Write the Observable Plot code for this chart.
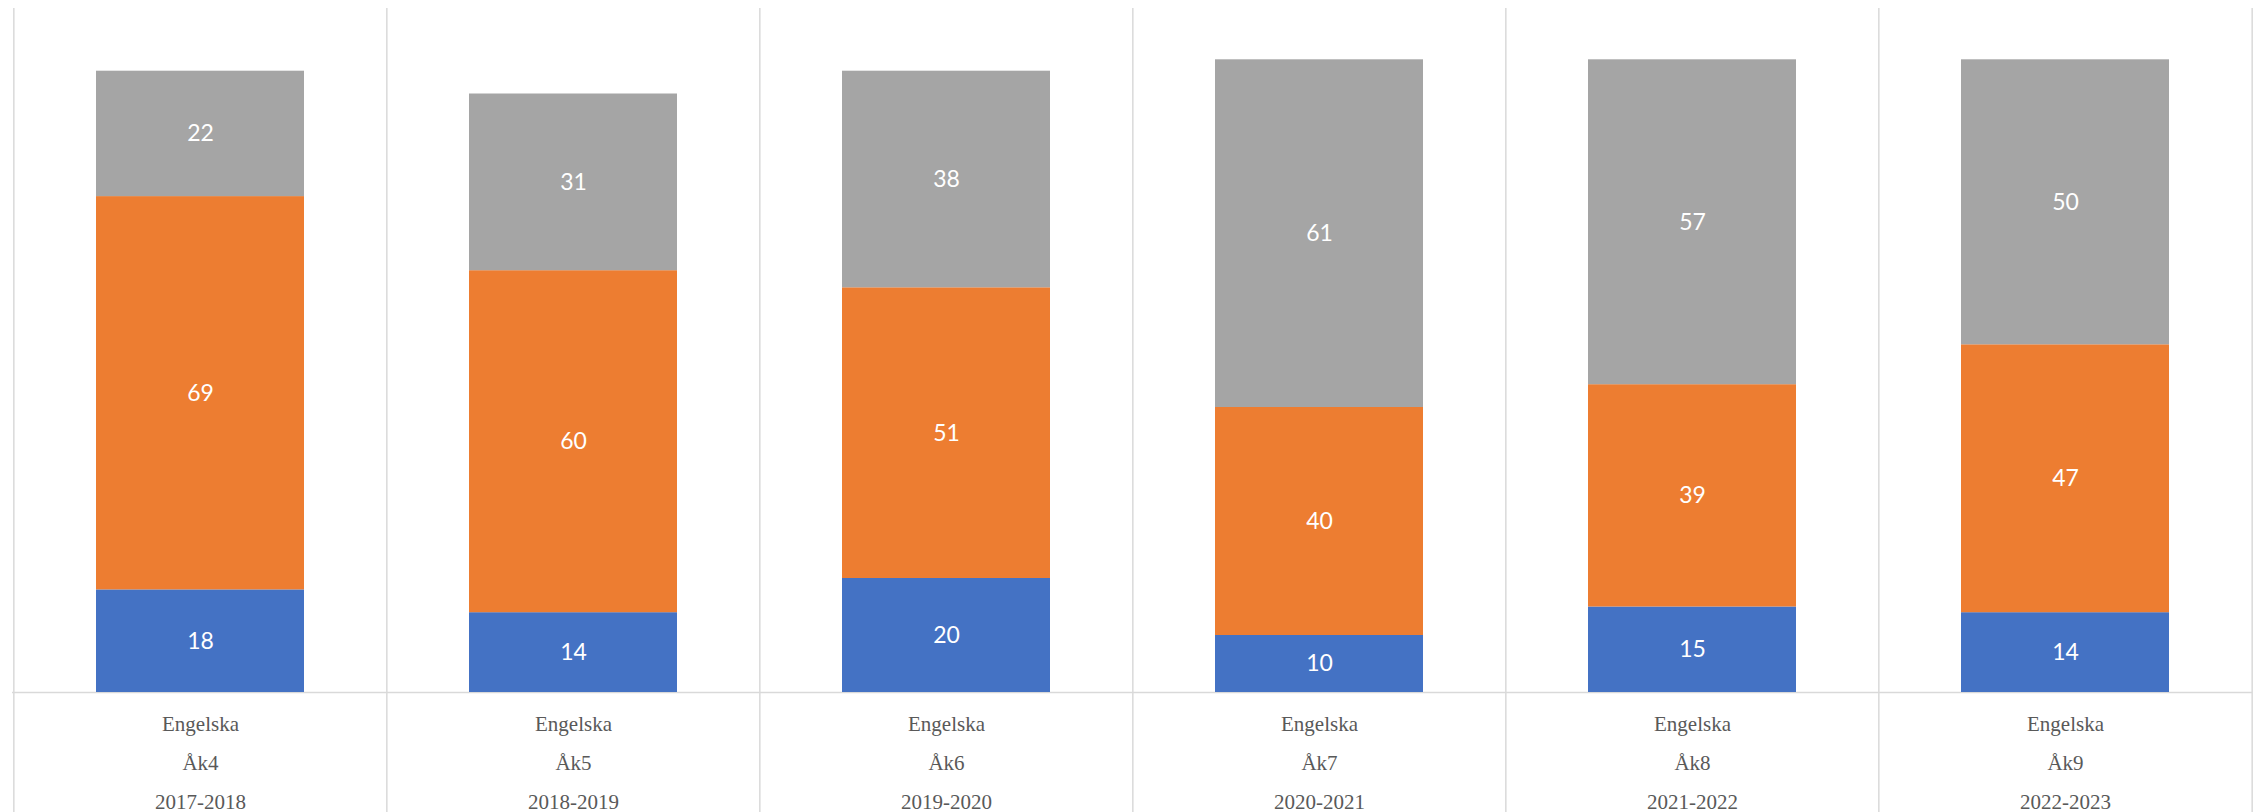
<!DOCTYPE html>
<html>
<head>
<meta charset="utf-8">
<script src="https://cdn.jsdelivr.net/npm/d3@7"></script>
<script src="https://cdn.jsdelivr.net/npm/@observablehq/plot@0.6"></script>
<style>
  html, body { margin: 0; padding: 0; background: #ffffff; }
</style>
</head>
<body>
<div id="chart"></div>
<script>
const subject = "Engelska";
const grades = ["Åk4", "Åk5", "Åk6", "Åk7", "Åk8", "Åk9"];
const years = ["2017-2018", "2018-2019", "2019-2020", "2020-2021", "2021-2022", "2022-2023"];
const seriesNames = ["Låg", "Mellan", "Hög"];
const seriesColors = ["#4472C4", "#ED7D31", "#A5A5A5"];
const lowValues = [18, 14, 20, 10, 15, 14];
const midValues = [69, 60, 51, 40, 39, 47];
const highValues = [22, 31, 38, 61, 57, 50];

const seriesValues = [lowValues, midValues, highValues];
const data = [];
grades.forEach((g, i) => {
  seriesNames.forEach((s, j) => {
    data.push({cat: g, series: s, value: seriesValues[j][i]});
  });
});
const labelOf = new Map(grades.map((g, i) => [g, `${subject}\n${g}\n${years[i]}`]));

const W = 2257, H = 812;
const mLeft = 12, mRight = 5, mTop = 8, mBottom = 120;
const pInner = 0.443;
const step = (W - mLeft - mRight) / grades.length;
const gridColor = "#d9d9d9";

const chart = Plot.plot({
  width: W,
  height: H,
  marginLeft: mLeft,
  marginRight: mRight,
  marginTop: mTop,
  marginBottom: mBottom,
  style: {background: "#ffffff", overflow: "visible"},
  x: {domain: grades, paddingInner: pInner, paddingOuter: pInner / 2, axis: null},
  y: {domain: [0, 120], axis: null},
  color: {domain: seriesNames, range: seriesColors},
  marks: [
    Plot.ruleX(grades, {x: d => d, dx: -step / 2, stroke: gridColor, strokeWidth: 1.5, insetBottom: -mBottom}),
    Plot.ruleX([grades[grades.length - 1]], {x: d => d, dx: step / 2, stroke: gridColor, strokeWidth: 1.5, insetBottom: -mBottom}),
    Plot.ruleY([0], {stroke: gridColor, strokeWidth: 1.5}),
    Plot.barY(data, {x: "cat", y: "value", fill: "series", order: seriesNames}),
    Plot.text(data, Plot.stackY({
      x: "cat", y: "value", z: "series", order: seriesNames,
      text: d => String(d.value),
      fill: "#ffffff",
      fontSize: 23,
      fontFamily: "Lato, 'Open Sans', sans-serif"
    })),
    Plot.axisX({
      tickSize: 0,
      tickPadding: 11,
      tickFormat: d => labelOf.get(d),
      lineHeight: 1.86,
      fontSize: 21,
      fontFamily: "'Liberation Serif', 'DejaVu Serif', serif",
      fill: "#595959",
      label: null
    })
  ]
});
document.getElementById("chart").appendChild(chart);
</script>
</body>
</html>
